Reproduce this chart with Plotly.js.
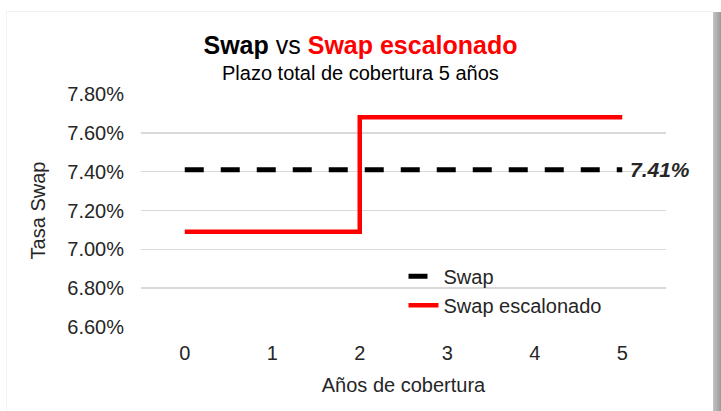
<!DOCTYPE html>
<html>
<head>
<meta charset="utf-8">
<script src="https://cdn.plot.ly/plotly-3.0.1.min.js"></script>
<style>
  html, body { margin: 0; padding: 0; background: #ffffff; }
  #wrap { position: relative; width: 721px; height: 411px; overflow: hidden; background: #ffffff; }
  #card { position: absolute; left: 6px; top: 11px; width: 706px; height: 410px; background: #ffffff;
          border-top: 1px solid #f0f0f0; border-left: 1px solid #f2f2f2; }
  #shadow { position: absolute; left: 713px; top: 12px; width: 8px; height: 400px;
            background: linear-gradient(to right, #c4c4c4, #9a9a9a); }
  #chart { position: absolute; left: 0; top: 0; width: 721px; height: 411px; }
</style>
</head>
<body>
<div id="wrap">
  <div id="card"></div>
  <div id="shadow"></div>
  <div id="chart"></div>
</div>
<script>
// ---- data ----
const years = [0, 1, 2, 3, 4, 5];
const swapRate = [0.0741, 0.0741, 0.0741, 0.0741, 0.0741, 0.0741];
const stepRate = [0.0709, 0.0709, 0.0768, 0.0768, 0.0768, 0.0768];
const seriesNames = ["Swap", "Swap escalonado"];
const yTicks = [0.066, 0.068, 0.070, 0.072, 0.074, 0.076, 0.078];
const swapLabel = "7.41%";
const subtitle = "Plazo total de cobertura 5 años";

const font = "Arial, 'Liberation Sans', sans-serif";
const textColor = "#262626";

const traces = [
  {
    x: years, y: swapRate, name: seriesNames[0], type: "scatter", mode: "lines",
    line: { color: "#000000", width: 5, dash: "19px,17px" }
  },
  {
    x: years, y: stepRate, name: seriesNames[1], type: "scatter", mode: "lines",
    line: { color: "#ff0000", width: 4.5, shape: "hv" }
  }
];

const layout = {
  width: 721, height: 411,
  margin: { l: 141, r: 55, t: 94, b: 84 },
  paper_bgcolor: "rgba(0,0,0,0)",
  plot_bgcolor: "rgba(0,0,0,0)",
  font: { family: font, color: textColor, size: 20 },
  title: {
    text: "<b>Swap</b> vs <b><span style='color:#ff0000'>Swap escalonado</span></b>",
    font: { family: font, size: 25, color: "#000000" },
    x: 0.5, xanchor: "center", xref: "container",
    y: 1 - 45 / 411, yanchor: "middle", yref: "container"
  },
  xaxis: {
    range: [-0.5, 5.5],
    tickmode: "array", tickvals: years, ticktext: years.map(String),
    showgrid: false, zeroline: false, showline: false, ticks: "",
    tickfont: { family: font, size: 20, color: textColor },
    ticklabelstandoff: 12,
    title: { text: "Años de cobertura", font: { family: font, size: 20, color: textColor }, standoff: 14 },
    fixedrange: true
  },
  yaxis: {
    range: [0.066, 0.078],
    tickmode: "array", tickvals: yTicks, tickformat: ".2%",
    showgrid: true, gridcolor: "#d9d9d9", gridwidth: 1.5,
    zeroline: false, showline: false, ticks: "",
    tickfont: { family: font, size: 20, color: textColor },
    ticklabelstandoff: 16,
    title: { text: "Tasa Swap", font: { family: font, size: 20, color: textColor }, standoff: 16 },
    fixedrange: true
  },
  showlegend: true,
  legend: {
    x: 0.5, xanchor: "left", y: 0.302, yanchor: "top",
    bgcolor: "rgba(0,0,0,0)", borderwidth: 0,
    font: { family: font, size: 20, color: textColor },
    itemwidth: 30, tracegroupgap: 0
  },
  annotations: [
    {
      // subtitle, centred on the figure (plot area spans 141..666 px horizontally, 94..327 px vertically)
      x: (360 - 141) / 525, y: (327 - 73) / 233, xref: "paper", yref: "paper",
      text: subtitle, showarrow: false,
      xanchor: "center", yanchor: "middle",
      font: { family: font, size: 20, color: "#000000" }
    },
    {
      x: years[years.length - 1], y: swapRate[swapRate.length - 1], xref: "x", yref: "y",
      text: "<b><i>" + swapLabel + "</i></b>", showarrow: false,
      xanchor: "left", yanchor: "middle", xshift: 6,
      font: { family: font, size: 21, color: "#262626" }
    }
  ]
};

Plotly.newPlot("chart", traces, layout, { displayModeBar: false, staticPlot: true });
</script>
</body>
</html>
